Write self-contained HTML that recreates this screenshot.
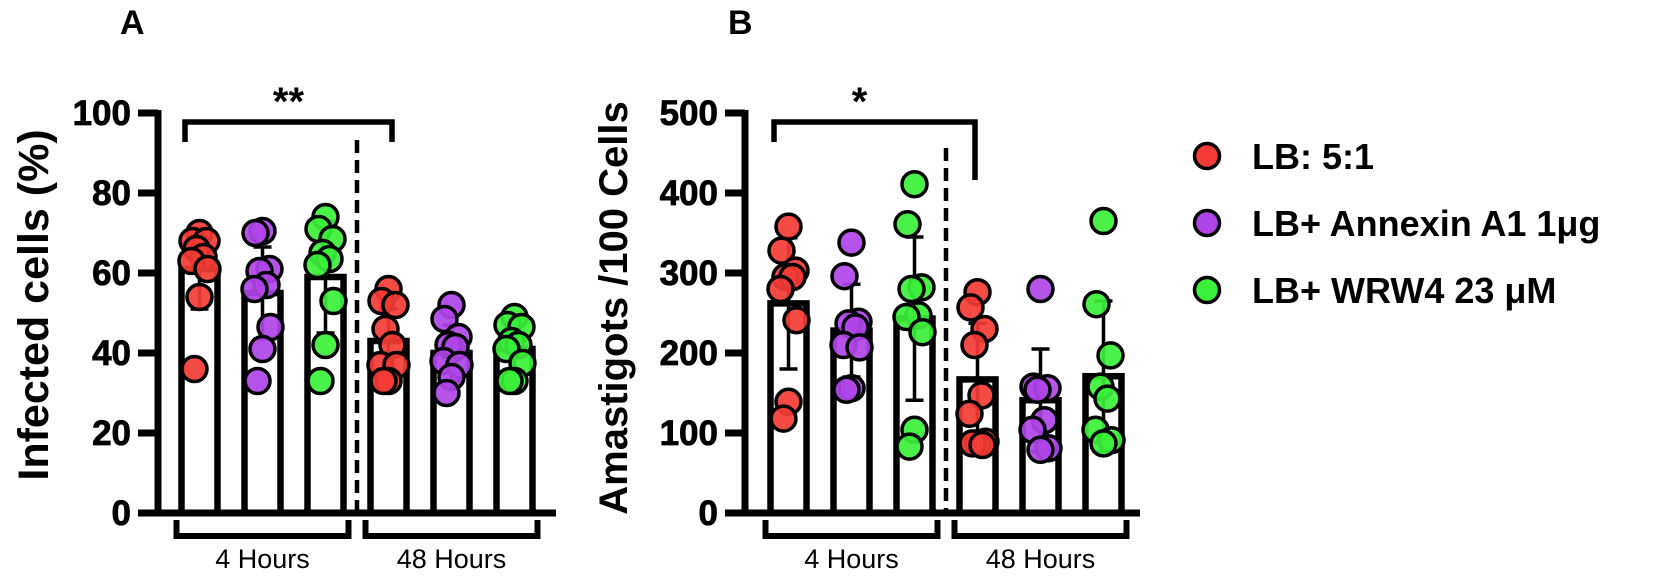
<!DOCTYPE html>
<html><head><meta charset="utf-8"><style>
html,body{margin:0;padding:0;background:#fff;}
svg{display:block;font-family:"Liberation Sans",Arial,sans-serif;}
</style></head><body>
<svg id="chart" width="1654" height="578" viewBox="0 0 1654 578">
  <text x="120" y="34" font-size="34" font-weight="bold">A</text>
  <text x="728" y="34" font-size="34" font-weight="bold">B</text>
  <g id="legend">
    <g><circle cx="1207" cy="156" r="12.5" fill="#f53b35" stroke="#000" stroke-width="3.5"/><text x="1252" y="169" font-size="36" font-weight="bold">LB: 5:1</text></g>
    <g><circle cx="1207" cy="223" r="12.5" fill="#b044e8" stroke="#000" stroke-width="3.5"/><text x="1252" y="236" font-size="36" font-weight="bold">LB+ Annexin A1 1μg</text></g>
    <g><circle cx="1207" cy="290" r="12.5" fill="#3af03a" stroke="#000" stroke-width="3.5"/><text x="1252" y="303" font-size="36" font-weight="bold">LB+ WRW4 23 μM</text></g>
  </g>
</svg>
<script>
// ---- data ----
const groups = ["4 Hours", "48 Hours"];
const treatments = ["LB: 5:1", "LB+ Annexin A1 1μg", "LB+ WRW4 23 μM"];
const colors = ["#f53b35", "#b044e8", "#3af03a"];
// Panel A: infected cells (%)
const aMeans = [61, 55, 59, 43, 40, 41];
const aSD = [10, 11.5, 14, 8, 7, 6];
const aPoints = [
  [70, 68, 68, 66, 64, 63, 61, 54, 36],
  [70.5, 70, 61, 60.5, 57, 56, 46.5, 41, 33],
  [74, 71, 68.5, 65, 63.5, 62, 53, 42, 33],
  [56, 53, 52, 46, 42, 37, 37, 33, 33],
  [52, 48.5, 44, 42, 41.5, 38, 37, 34, 30],
  [49, 47, 46.5, 43, 42, 41, 37.5, 33, 33]
];
const aTicks = [0, 20, 40, 60, 80, 100];
// Panel B: amastigotes / 100 cells
const bMeans = [262, 228, 243, 167, 141, 171];
const bSD = [82, 58, 102, 70, 64, 94];
const bPoints = [
  [358, 328, 303, 295, 295, 280, 241, 139, 118],
  [338, 296, 239, 237, 232, 210, 207, 156, 154],
  [411, 361, 282, 280, 247, 245, 226, 104, 83],
  [276, 257, 230, 210, 147, 124, 89, 87, 87, 85],
  [280, 158, 156, 154, 116, 104, 81, 79],
  [365, 261, 197, 158, 143, 104, 91, 87]
];
const bTicks = [0, 100, 200, 300, 400, 500];

const NS = "http://www.w3.org/2000/svg";
const svg = document.getElementById("chart");
function mk(tag, attrs, parent) {
  const e = document.createElementNS(NS, tag);
  for (const k in attrs) e.setAttribute(k, attrs[k]);
  (parent || svg).appendChild(e);
  return e;
}
const jit = [0, -7, 7, -3, 4, -8, 8, 0, -5, 5];

function panel(cfg) {
  const g = mk("g", {});
  
  
  const y0 = 513, yTop = 113;
  const maxV = cfg.ticks[cfg.ticks.length - 1];
  const y = v => y0 - (v / maxV) * (y0 - yTop);
  const x = i => cfg.x0 + i * 63;
  const bw = 36;
  cfg.means.forEach((m, i) => {
    const cx = x(i);
    const bar = mk("rect", {x: cx - bw / 2, y: y(m), width: bw, height: y0 - y(m), fill: "#fff", stroke: "#000", "stroke-width": 6.5}, g);
    
    
    const lo = y(m - cfg.sd[i]), hi = y(m + cfg.sd[i]);
    const eb = mk("path", {d: `M${cx},${hi}V${lo}M${cx - 9},${hi}H${cx + 9}M${cx - 9},${lo}H${cx + 9}`, stroke: "#000", "stroke-width": 3.5, fill: "none"}, g);
    
    
    cfg.points[i].forEach((v, k) => {
      const c = mk("circle", {cx: cx + jit[k % jit.length], cy: y(v), r: 12.5, fill: colors[i % 3], stroke: "#000", "stroke-width": 3.5, "fill-opacity": 0.92}, g);
      
      
    });
  });
  const ya = mk("line", {x1: cfg.ax, y1: yTop - 3, x2: cfg.ax, y2: y0 + 3, stroke: "#000", "stroke-width": 7}, g);
  
  
  const xa = mk("line", {x1: cfg.ax - 20, y1: y0, x2: cfg.axEnd, y2: y0, stroke: "#000", "stroke-width": 7}, g);
  
  
  cfg.ticks.forEach(t => {
    mk("line", {x1: cfg.ax - 20, y1: y(t), x2: cfg.ax, y2: y(t), stroke: "#000", "stroke-width": 7}, g);
    const tl = mk("text", {x: cfg.ax - 27, y: y(t) + 12, "font-size": 35, "font-weight": "bold", "text-anchor": "end", stroke: "#000", "stroke-width": 0.8}, g);
    tl.textContent = t;
    
    
  });
  const yt = mk("text", {x: 0, y: 0, "font-size": cfg.titleSize, "font-weight": "bold", "text-anchor": "middle", transform: `translate(${cfg.titleX},${cfg.titleY}) rotate(-90)`}, g);
  yt.textContent = cfg.title;
  
  
  const ds = mk("line", {x1: cfg.dashX, y1: cfg.dashTop, x2: cfg.dashX, y2: y0, stroke: "#000", "stroke-width": 4.5, "stroke-dasharray": "13 7"}, g);
  
  
  groups.forEach((name, gi) => {
    const l = x(gi * 3) - 23, r = x(gi * 3 + 2) + 23;
    const br = mk("path", {d: `M${l},520V536H${r}V520`, stroke: "#000", "stroke-width": 6, fill: "none"}, g);
    
    
    const gl = mk("text", {x: (l + r) / 2, y: 568, "font-size": 27, "text-anchor": "middle"}, g);
    gl.textContent = name;
    
    
  });
  const sb = mk("path", {d: `M${cfg.sigL},142V122H${cfg.sigR}V${cfg.sigRB}`, stroke: "#000", "stroke-width": 5.5, fill: "none"}, g);
  
  
  const st = mk("text", {x: (cfg.sigL + cfg.sigR) / 2 + (cfg.sig === '*' ? -15 : 0), y: 115, "font-size": 40, "font-weight": "bold", "text-anchor": "middle"}, g);
  st.textContent = cfg.sig;
  
  
}

panel({name: "panel-a", x0: 199.5, ax: 158, axEnd: 556, means: aMeans, sd: aSD, points: aPoints, ticks: aTicks,
  title: "Infected cells (%)", titleSize: 43, titleX: 48, titleY: 305, dashX: 357, dashTop: 140,
  sigL: 185, sigR: 392, sigRB: 142, sig: "**"});
panel({name: "panel-b", x0: 788.5, ax: 745, axEnd: 1140, means: bMeans, sd: bSD, points: bPoints, ticks: bTicks,
  title: "Amastigots /100 Cells", titleSize: 40, titleX: 627, titleY: 308, dashX: 946, dashTop: 148,
  sigL: 774, sigR: 975, sigRB: 180, sig: "*"});
svg.appendChild(document.getElementById("legend"));
</script>
</body></html>
